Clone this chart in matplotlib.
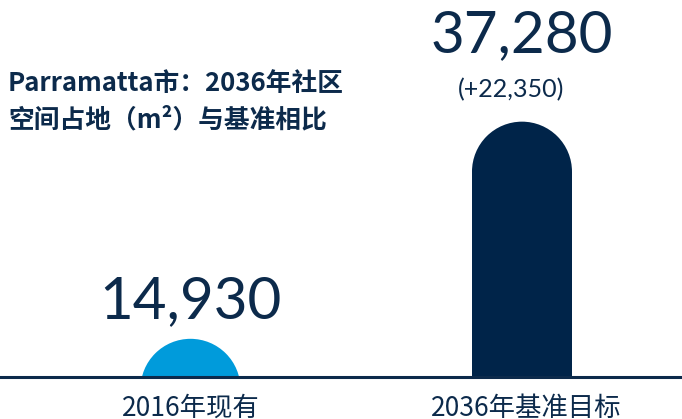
import matplotlib
matplotlib.use("Agg")
import matplotlib.pyplot as plt
from matplotlib.patches import Rectangle, Ellipse

# Daten
categories = ["2016年现有", "2036年基准目标"]
values = [14930, 37280]
value_labels = ["14,930", "37,280"]
change_label = "(+22,350)"
bar_colors = ["#009bdb", "#002449"]
title = "Parramatta市：2036年社区\n空间占地（m²）与基准相比"

navy = "#0c2a4b"
plt.rcParams['font.family'] = ['Noto Sans CJK SC', 'DejaVu Sans']


def main():
    fig = plt.figure(figsize=(6.82, 4.19), dpi=100)
    ax = fig.add_axes([0, 42 / 419, 1, 377 / 419])

    ax.set_xlim(-0.5747, 1.4827)
    ax.set_ylim(11000, 49800)
    ax.axis('off')

    # Skalierung Pixel -> Daten
    fig.canvas.draw()
    bbox = ax.get_window_extent()
    x0, x1 = ax.get_xlim()
    y0, y1 = ax.get_ylim()
    px_x = (x1 - x0) / bbox.width
    px_y = (y1 - y0) / bbox.height

    bw = 100 * px_x
    r_y = 50 * px_y
    for i, (v, c) in enumerate(zip(values, bar_colors)):
        top = v - r_y
        if top > y0:
            ax.add_patch(Rectangle((i - bw / 2, y0), bw, top - y0, color=c, lw=0))
        ax.add_patch(Ellipse((i, top), bw, 2 * r_y, color=c, lw=0))

    # Grundlinie
    ax.axhline(y0, color=navy, lw=2.2, clip_on=False)

    # Werte
    for i, (v, lab) in enumerate(zip(values, value_labels)):
        off = 37 if i == 0 else 86
        ax.annotate(lab, (i, v), xytext=(0, off), textcoords='offset pixels',
                    ha='center', va='center', fontsize=42, color=navy,
                    family=['Lato', 'DejaVu Sans'])
    ax.annotate(change_label, (1, values[1]), xytext=(-11, 32), textcoords='offset pixels',
                ha='center', va='center', fontsize=18, color=navy,
                family=['Lato', 'DejaVu Sans'])

    # Kategorien
    for i, cat in enumerate(categories):
        ax.annotate(cat, (i, y0), xytext=(4 * i, -31), textcoords='offset pixels',
                    ha='center', va='center', fontsize=19, color=navy)

    fig.text(8 / 682, 1 - 102 / 419, title, ha='left', va='center', fontsize=18.5,
             fontweight='bold', color=navy, linespacing=1.44)

    fig.savefig("out.png", dpi=100)


if __name__ == "__main__":
    main()
